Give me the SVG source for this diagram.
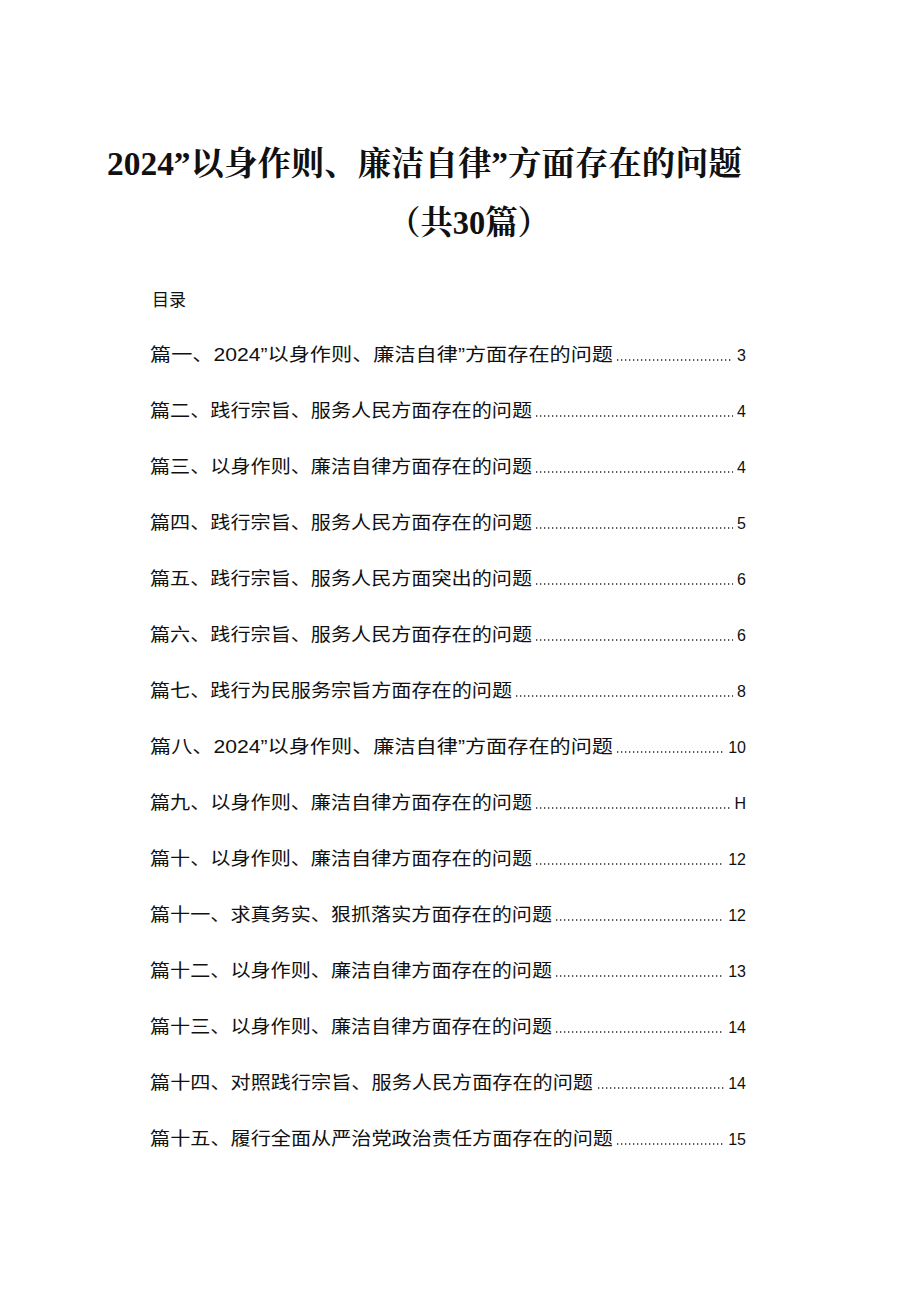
<svg xmlns="http://www.w3.org/2000/svg" width="920" height="1301" viewBox="0 0 920 1301">
<style>
.t{font-family:"Liberation Serif","Noto Serif CJK SC","Noto Sans CJK SC",serif;font-weight:bold;font-size:33px;fill:#111}
.e{font-family:"Liberation Sans","Noto Sans CJK SC",sans-serif;font-size:18px;fill:#111}
.n{font-family:"Liberation Sans",sans-serif;font-size:16px;fill:#111;text-anchor:end}
.d{stroke:#222;stroke-width:1.3;stroke-dasharray:1.3 2.7}
</style>
<rect width="920" height="1301" fill="#fff"/>
<text class="t" x="107" y="175" textLength="635" lengthAdjust="spacingAndGlyphs">2024”以身作则、廉洁自律”方面存在的问题</text>
<text class="t" x="388" y="234" textLength="162" lengthAdjust="spacingAndGlyphs">（共30篇）</text>
<text class="e" x="152" y="306" style="font-size:17px">目录</text>
<g>
<text class="e" x="150" y="361" textLength="463" lengthAdjust="spacingAndGlyphs">篇一、2024”以身作则、廉洁自律”方面存在的问题</text><line class="d" x1="617" y1="360" x2="733" y2="360"/><text class="n" x="746" y="361">3</text>
<text class="e" x="150" y="417" textLength="382" lengthAdjust="spacingAndGlyphs">篇二、践行宗旨、服务人民方面存在的问题</text><line class="d" x1="536" y1="416" x2="733" y2="416"/><text class="n" x="746" y="417">4</text>
<text class="e" x="150" y="473" textLength="382" lengthAdjust="spacingAndGlyphs">篇三、以身作则、廉洁自律方面存在的问题</text><line class="d" x1="536" y1="472" x2="733" y2="472"/><text class="n" x="746" y="473">4</text>
<text class="e" x="150" y="529" textLength="382" lengthAdjust="spacingAndGlyphs">篇四、践行宗旨、服务人民方面存在的问题</text><line class="d" x1="536" y1="528" x2="733" y2="528"/><text class="n" x="746" y="529">5</text>
<text class="e" x="150" y="585" textLength="382" lengthAdjust="spacingAndGlyphs">篇五、践行宗旨、服务人民方面突出的问题</text><line class="d" x1="536" y1="584" x2="733" y2="584"/><text class="n" x="746" y="585">6</text>
<text class="e" x="150" y="641" textLength="382" lengthAdjust="spacingAndGlyphs">篇六、践行宗旨、服务人民方面存在的问题</text><line class="d" x1="536" y1="640" x2="733" y2="640"/><text class="n" x="746" y="641">6</text>
<text class="e" x="150" y="697" textLength="362" lengthAdjust="spacingAndGlyphs">篇七、践行为民服务宗旨方面存在的问题</text><line class="d" x1="516" y1="696" x2="733" y2="696"/><text class="n" x="746" y="697">8</text>
<text class="e" x="150" y="753" textLength="463" lengthAdjust="spacingAndGlyphs">篇八、2024”以身作则、廉洁自律”方面存在的问题</text><line class="d" x1="617" y1="752" x2="724" y2="752"/><text class="n" x="746" y="753">10</text>
<text class="e" x="150" y="809" textLength="382" lengthAdjust="spacingAndGlyphs">篇九、以身作则、廉洁自律方面存在的问题</text><line class="d" x1="536" y1="808" x2="732" y2="808"/><text class="n" x="746" y="809">H</text>
<text class="e" x="150" y="865" textLength="382" lengthAdjust="spacingAndGlyphs">篇十、以身作则、廉洁自律方面存在的问题</text><line class="d" x1="536" y1="864" x2="724" y2="864"/><text class="n" x="746" y="865">12</text>
<text class="e" x="150" y="921" textLength="402" lengthAdjust="spacingAndGlyphs">篇十一、求真务实、狠抓落实方面存在的问题</text><line class="d" x1="556" y1="920" x2="724" y2="920"/><text class="n" x="746" y="921">12</text>
<text class="e" x="150" y="977" textLength="402" lengthAdjust="spacingAndGlyphs">篇十二、以身作则、廉洁自律方面存在的问题</text><line class="d" x1="556" y1="976" x2="724" y2="976"/><text class="n" x="746" y="977">13</text>
<text class="e" x="150" y="1033" textLength="402" lengthAdjust="spacingAndGlyphs">篇十三、以身作则、廉洁自律方面存在的问题</text><line class="d" x1="556" y1="1032" x2="724" y2="1032"/><text class="n" x="746" y="1033">14</text>
<text class="e" x="150" y="1089" textLength="443" lengthAdjust="spacingAndGlyphs">篇十四、对照践行宗旨、服务人民方面存在的问题</text><line class="d" x1="598" y1="1088" x2="724" y2="1088"/><text class="n" x="746" y="1089">14</text>
<text class="e" x="150" y="1145" textLength="463" lengthAdjust="spacingAndGlyphs">篇十五、履行全面从严治党政治责任方面存在的问题</text><line class="d" x1="617" y1="1144" x2="724" y2="1144"/><text class="n" x="746" y="1145">15</text>
</g>
</svg>
